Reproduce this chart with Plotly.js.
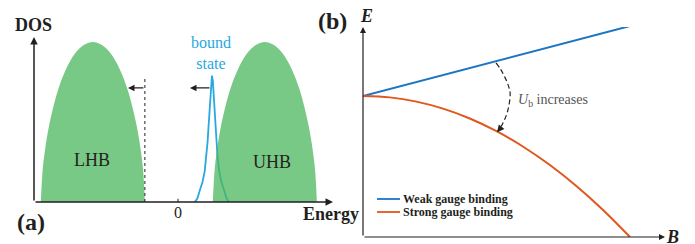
<!DOCTYPE html>
<html><head><meta charset="utf-8">
<script src="https://cdn.plot.ly/plotly-3.0.1.min.js"></script>
<style>html,body{margin:0;padding:0;background:#fff}</style>
</head><body><div id="chart" style="width:695px;height:244px"></div>
<script>
// ---- Panel (a): density of states (energy units, DOS normalised to band peak) ----
const lhbEnergy = [-3.19,-3.15,-3.10,-3.00,-2.80,-2.60,-2.40,-2.20,-1.98,-1.76,-1.56,-1.36,-1.16,-0.96,-0.86,-0.81,-0.77];
const lhbDos    = [0,0.194,0.311,0.475,0.692,0.833,0.926,0.980,1,0.980,0.926,0.833,0.692,0.475,0.311,0.194,0];
const uhbEnergy = [0.81,0.85,0.90,1.00,1.20,1.40,1.60,1.80,2.02,2.24,2.44,2.64,2.84,3.04,3.14,3.19,3.23];
const uhbDos    = [0,0.194,0.311,0.475,0.692,0.833,0.926,0.980,1,0.980,0.926,0.833,0.692,0.475,0.311,0.194,0];
const boundEnergy = [0.39,0.45,0.51,0.57,0.62,0.66,0.69,0.71,0.73,0.75,0.77,0.79,0.81,0.83,0.85,0.87,0.89,0.92,0.96,1.01,1.07,1.13,1.19];
const boundDos    = [0,0.022,0.075,0.125,0.190,0.280,0.380,0.470,0.571,0.675,0.758,0.79,0.758,0.675,0.571,0.470,0.380,0.280,0.190,0.125,0.075,0.022,0];
const bandLabels = ["LHB","UHB"];
const boundLabel = "bound<br>state";
const gapEdge = -0.77;        // dotted line at LHB edge
const gapEdgeTop = 0.77;
const shiftArrows = [{from:-0.77,to:-1.163,y:0.7125},{from:0.767,to:0.279,y:0.7125}];
const zeroTick = "0";

// ---- Panel (b): energy vs B ----
const fieldB = [0,0.1,0.2,0.3,0.4,0.5,0.6,0.7,0.8,0.9,1.0];
const weakE  = [0,0.0496,0.0992,0.1488,0.1984,0.248,0.2976,0.3472,0.3968,0.4464,0.496];
const strongE= [0,-0.01,-0.04,-0.09,-0.16,-0.25,-0.36,-0.49,-0.64,-0.81,-1.0];
const seriesNames = ["Weak gauge binding","Strong gauge binding"];
const ubArcB = [0.498,0.515,0.532,0.545,0.551,0.548,0.538,0.522,0.505];
const ubArcE = [0.234,0.19,0.13,0.07,0.02,-0.05,-0.13,-0.20,-0.25];

const W=695,H=244;
const px=(x)=>x/W, py=(y)=>1-y/H;
const serif="Liberation Serif";
const ink="#231f20";

const aX0=-3.349, aX1=3.605, aY1=1.031;
const bX1=1.131, bY0=-1, bY1=0.489;

const green="rgba(76,183,94,0.75)";
const traces=[
 {x:boundEnergy,y:boundDos,mode:"lines",line:{color:"#29a8e0",width:1.8},xaxis:"x",yaxis:"y",hoverinfo:"skip"},
 {x:lhbEnergy,y:lhbDos,mode:"lines",fill:"toself",fillcolor:green,line:{width:0,shape:"spline"},xaxis:"x",yaxis:"y",hoverinfo:"skip"},
 {x:uhbEnergy,y:uhbDos,mode:"lines",fill:"toself",fillcolor:green,line:{width:0,shape:"spline"},xaxis:"x",yaxis:"y",hoverinfo:"skip"},
 {x:ubArcB,y:ubArcE,mode:"lines",line:{color:"#222",width:1.2,dash:"5px,3px",shape:"spline"},xaxis:"x2",yaxis:"y2",hoverinfo:"skip",cliponaxis:false},
 {x:fieldB,y:weakE,mode:"lines",name:seriesNames[0],line:{color:"#1b75c4",width:2},xaxis:"x2",yaxis:"y2",cliponaxis:false},
 {x:fieldB,y:strongE,mode:"lines",name:seriesNames[1],line:{color:"#e0561e",width:2,shape:"spline"},xaxis:"x2",yaxis:"y2",cliponaxis:false}
];

function arrow(xr,yr,tx,ty,fx,fy,w,color,head){
 return {xref:xr,yref:yr,axref:xr,ayref:yr,x:tx,y:ty,ax:fx,ay:fy,text:"",showarrow:true,
   arrowhead:head||2,arrowsize:1,arrowwidth:w,arrowcolor:color||ink,standoff:0,startstandoff:0};
}
function txt(x,y,t,size,opts){
 return Object.assign({xref:"paper",yref:"paper",x:px(x),y:py(y),text:t,showarrow:false,
   font:{family:serif,size:size,color:ink},xanchor:"center",yanchor:"middle"},opts||{});
}

const ann=[
 arrow("x","y",aX1,0,aX0,0,1.5),
 arrow("x","y",aX0,aY1,aX0,0,1.5),
 ...shiftArrows.map(a=>arrow("x","y",a.to,a.y,a.from,a.y,1.3)),
 arrow("x2","y2",bX1,bY0,0,bY0,1.2),
 arrow("x2","y2",0,bY1,0,bY0,1.2),
 Object.assign(arrow("x2","y2",0.502,-0.258,0.512,-0.235,1.2,"#222"),{arrowsize:1.2}),
 txt(33,25,"<b>DOS</b>",18),
 txt(331,214,"<b>Energy</b>",18),
 txt(31,222,"<b>(a)</b>",24),
 txt(332,21,"<b>(b)</b>",24),
 txt(366,16,"<b><i>E</i></b>",18),
 txt(672,237,"<b><i>B</i></b>",18),
 txt(92,160,bandLabels[0],18),
 txt(272,162,bandLabels[1],18),
 txt(211,53,boundLabel,16,{font:{family:serif,size:16,color:"#29a8e0"}}),
 txt(178,212,zeroTick,16),
 txt(516,100,"<i>U</i><sub>b</sub> increases",14,{xanchor:"left",font:{family:serif,size:14,color:"#555"}}),
 txt(401,199,"<b>"+seriesNames[0]+"</b>",12,{xanchor:"left"}),
 txt(401,212,"<b>"+seriesNames[1]+"</b>",12,{xanchor:"left"})
];

const shapes=[
 {type:"line",xref:"x",yref:"y",x0:gapEdge,x1:gapEdge,y0:0,y1:gapEdgeTop,line:{color:ink,width:1,dash:"dot"}},
 {type:"line",xref:"x",yref:"y",x0:0,x1:0,y0:0,y1:0.02,line:{color:ink,width:1}},
 {type:"line",xref:"paper",yref:"paper",x0:px(377),x1:px(400),y0:py(199),y1:py(199),line:{color:"#1b75c4",width:1.8}},
 {type:"line",xref:"paper",yref:"paper",x0:px(377),x1:px(400),y0:py(212),y1:py(212),line:{color:"#e0561e",width:1.8}}
];

const hid={visible:false,fixedrange:true};
const layout={
 width:W,height:H,margin:{l:0,r:0,t:0,b:0},paper_bgcolor:"#fff",plot_bgcolor:"rgba(0,0,0,0)",
 showlegend:false,
 xaxis:Object.assign({domain:[px(34),px(333)],range:[aX0,aX1]},hid),
 yaxis:Object.assign({domain:[py(202),py(37)],range:[0,aY1]},hid),
 xaxis2:Object.assign({domain:[px(363),px(665)],range:[0,bX1],anchor:"y2"},hid),
 yaxis2:Object.assign({domain:[py(237),py(27)],range:[bY0,bY1],anchor:"x2"},hid),
 annotations:ann,shapes:shapes
};
Plotly.newPlot("chart",traces,layout,{staticPlot:true,displayModeBar:false});
</script></body></html>
